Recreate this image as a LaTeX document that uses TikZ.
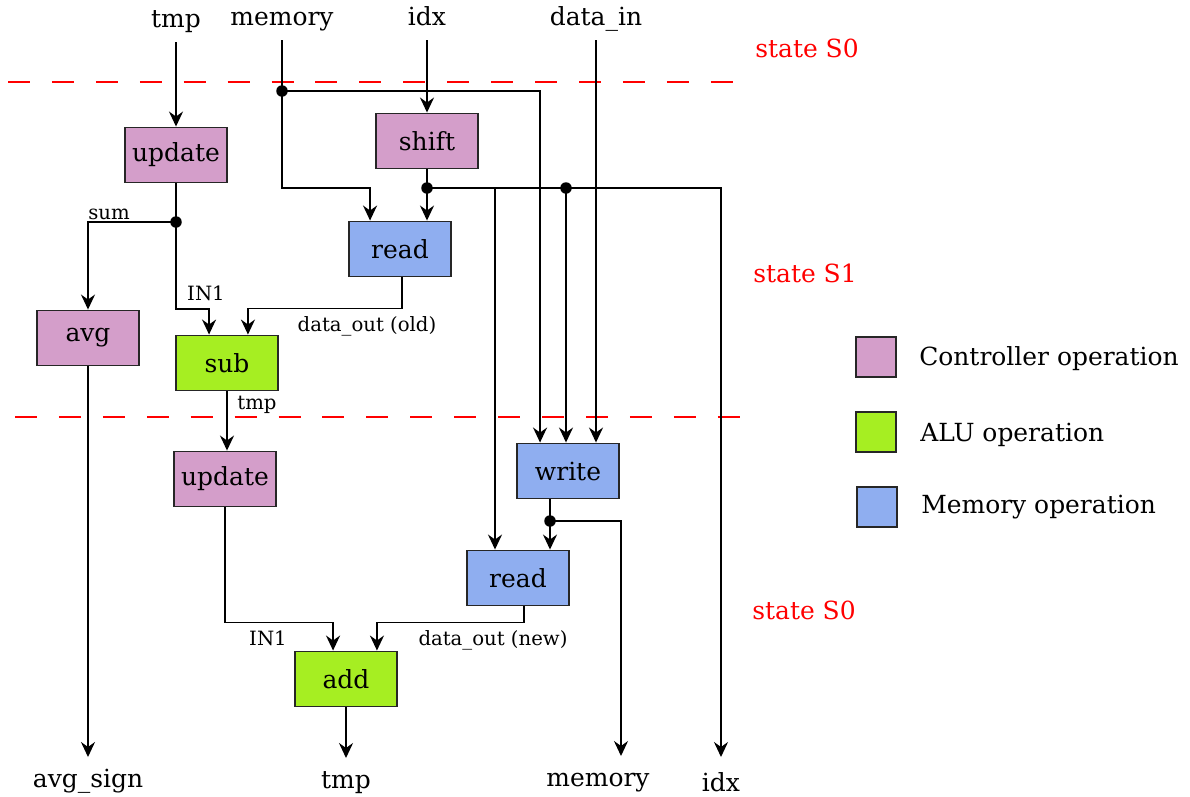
\documentclass[tikz,border=0pt]{standalone}
\usepackage{fontspec}
\setmainfont{DejaVu Serif}
\usepackage{xcolor}
\usepackage{tikz}
\usetikzlibrary{arrows.meta,positioning,calc}

\definecolor{ctrlpink}{HTML}{D49ECA}
\definecolor{alugreen}{HTML}{A6EE22}
\definecolor{memblue}{HTML}{8FAEF0}

\begin{document}
\begin{tikzpicture}[
    x=0.02cm, y=-0.02cm,
    opbox/.style={
        rectangle,
        draw=black!85,
        line width=1.1pt,
        minimum width=2.04cm,
        minimum height=1.1cm,
        inner sep=0pt,
        font=\fontsize{14.2}{16}\selectfont
    },
    io/.style={
        inner sep=5.5pt,
        text height=10pt,
        text depth=2.8pt,
        font=\fontsize{14.2}{16}\selectfont
    },
    outio/.style={
        io,
        anchor=north,
        text height=11.8pt
    },
    lbl/.style={
        inner sep=1pt,
        font=\fontsize{11.2}{13}\selectfont
    },
    statelbl/.style={
        text=red,
        font=\fontsize{14.2}{16}\selectfont
    },
    legbox/.style={
        rectangle,
        draw=black!85,
        line width=1.1pt,
        minimum size=0.8cm,
        inner sep=0pt
    },
    legtext/.style={
        anchor=west,
        inner sep=0pt,
        font=\fontsize{14.2}{16}\selectfont
    },
    junction/.style={
        circle,
        fill=black,
        minimum size=0.23cm,
        inner sep=0pt
    },
    wire/.style={
        line width=1.1pt
    },
    arrow/.style={
        -{Stealth[length=3mm, width=2.8mm, inset=1mm]},
        line width=1.1pt
    },
    statesep/.style={
        red,
        line width=1.1pt,
        dash pattern=on 12.5pt off 12.5pt
    }
]

\useasboundingbox (0,0) rectangle (1190,796);

% =========================
% State borders
% =========================

\draw[statesep] (8,82) -- (748,82);
\draw[statesep] (15,417) -- (752,417);

\node[statelbl] (st_first) at (807,48) {state S0};
\node[statelbl] (st_second) at (805,273) {state S1};
\node[statelbl] (st_third) at (804,610) {state S0};

% =========================
% Inputs and outputs
% =========================

\node[io, anchor=south] (in_tmp) at (176,42) {tmp};
\node[io, anchor=south] (in_mem) at (282,40) {memory};
\node[io, anchor=south] (in_idx) at (427,40) {idx};
\node[io, anchor=south] (in_data) at (596,40) {data\_in};

\node[outio] (out_avg) at (88,757) {avg\_sign};
\node[outio] (out_tmp) at (346,758) {tmp};
\node[outio] (out_mem) at (598,756) {memory};
\node[outio, inner sep=2pt, text height=17.6pt, text depth=0pt] (out_idx) at (721,757) {idx};

% =========================
% Operations
% =========================

\node[opbox, fill=ctrlpink] (upd_a) at (176,155) {update};
\node[opbox, fill=ctrlpink] (shift) at (427,141) {shift};
\node[opbox, fill=memblue] (read_a) at (400,249) {read};
\node[opbox, fill=ctrlpink] (avg) at (88,338) {avg};
\node[opbox, fill=alugreen] (sub) at (227,363) {sub};
\node[opbox, fill=ctrlpink] (upd_b) at (225,479) {update};
\node[opbox, fill=memblue] (write) at (568,471) {write};
\node[opbox, fill=memblue] (read_b) at (518,578) {read};
\node[opbox, fill=alugreen] (add) at (346,679) {add};

% =========================
% Junctions
% =========================

\node[junction] (j_mem) at (282,91) {};
\node[junction] (j_shift) at (427,188) {};
\node[junction] (j_data) at (566,188) {};
\node[junction] (j_sum) at (176,222) {};
\node[junction] (j_write) at (550,521) {};
\coordinate (tap_read) at (495,188);

% =========================
% State S0 inputs
% =========================

\draw[arrow] (in_tmp.south) -- (upd_a.north);
\draw[wire] (in_mem.south) -- (j_mem.center);
\draw[arrow] (in_idx.south) -- (shift.north);
\draw[arrow] (in_data.south) -- (in_data.south |- write.north);

\draw[arrow]
(j_mem.center)
-- ++(0,97)
-| ($(read_a.north west)+(22,0)$);

\draw[arrow]
(j_mem.center)
-| ($(write.north west)+(24,0)$);

% =========================
% Shifted index
% =========================

\draw[wire] (shift.south) -- (j_shift.center);
\draw[arrow] (j_shift.center) -- (j_shift |- read_a.north);

\draw[arrow]
(j_shift.center)
-| (out_idx.north);

\draw[arrow] (tap_read) -- (tap_read |- read_b.north);
\draw[arrow] (j_data.center) -- (j_data |- write.north);

% =========================
% State S1
% =========================

\draw[wire] (upd_a.south) -- (j_sum.center);

\draw[arrow]
(j_sum.center)
-| node[lbl, pos=0.38, above] {sum} (avg.north);

\draw[arrow]
(j_sum.center)
-- ++(0,87)
-| ($(sub.north west)+(34,0)$);
\node[lbl] (lbl_in_a) at (206,293) {IN1};

\draw[arrow]
($(read_a.south)+(2,0)$)
-- ++(0,31)
-| ($(sub.north east)+(-31,0)$);
\node[lbl] (lbl_old) at (367,326) {data\_out (old)};

\draw[arrow] (sub.south) -- (sub.south |- upd_b.north);
\node[lbl] (lbl_tmp) at (257,405) {tmp};

\draw[arrow] (avg.south) -- (out_avg.north);

% =========================
% Back to state S0
% =========================

\draw[arrow]
(upd_b.south)
-- ++(0,115)
-| ($(add.north west)+(39,0)$);
\node[lbl] (lbl_in_b) at (268,638) {IN1};

\draw[arrow]
($(read_b.south)+(6,0)$)
-- ++(0,16)
-| ($(add.north east)+(-21,0)$);
\node[lbl] (lbl_new) at (493,640) {data\_out (new)};

\draw[wire] ($(write.south)+(-18,0)$) -- (j_write.center);
\draw[arrow] (j_write.center) -- (j_write |- read_b.north);

\draw[arrow]
(j_write.center)
-| ($(out_mem.north)+(23,0)$);

\draw[arrow] (add.south) -- (out_tmp.north);

% =========================
% Legend
% =========================

\node[legbox, fill=ctrlpink] (leg_ctrl) at (876,357) {};
\node[legbox, fill=alugreen] (leg_alu) at (876,432) {};
\node[legbox, fill=memblue] (leg_mem) at (877,507) {};

\node[legtext, right=0.44cm of leg_ctrl, yshift=-1pt] (leg_ctrl_txt) {Controller operation};
\node[legtext, right=0.46cm of leg_alu, yshift=-1.8pt] (leg_alu_txt) {ALU operation};
\node[legtext, right=0.46cm of leg_mem] (leg_mem_txt) {Memory operation};

\end{tikzpicture}
\end{document}
